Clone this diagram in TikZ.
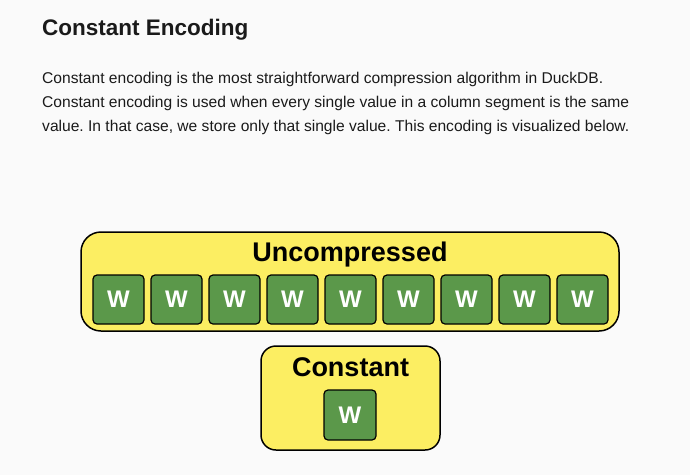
\documentclass[tikz,border=0pt]{standalone}
\usepackage{fontspec}
\setmainfont{Liberation Sans}
\usepackage{xcolor}
\definecolor{pagebg}{HTML}{FAFAFA}
\definecolor{boxyellow}{HTML}{FCEE62}
\definecolor{cellgreen}{HTML}{5B984A}
\definecolor{bodytext}{HTML}{1A1A1A}
\frenchspacing

\begin{document}
\begin{tikzpicture}[x=1pt,y=-1pt,
    panel/.style={draw,line width=1.5pt,fill=boxyellow},
    wcell/.style={draw,line width=1.2pt,fill=cellgreen,rounded corners=4pt,minimum width=51pt,minimum height=49pt,inner sep=0pt,text=white,font=\fontsize{24}{26}\selectfont\bfseries},
    paraline/.style={anchor=base west,inner sep=0pt,text=bodytext,font=\fontsize{15.6}{18}\selectfont}]
    \fill[pagebg] (0,0) rectangle (690,475);
    \useasboundingbox (0,0) rectangle (690,475);
    \node[anchor=base west,inner sep=0pt,text=bodytext,font=\fontsize{22.5}{26}\selectfont\bfseries] (title) at (42,35) {Constant Encoding};
    \node[paraline] (para1) at (42,83) {Constant encoding is the most straightforward compression algorithm in DuckDB.};
    \node[paraline] (para2) at (42,107) {Constant encoding is used when every single value in a column segment is the same};
    \node[paraline] (para3) at (42,131) {value. In that case, we store only that single value. This encoding is visualized below.};
    \node[panel,rounded corners=20pt,minimum width=538pt,minimum height=99pt] (uncomp) at (350,281.5) {};
    \node[anchor=base,inner sep=0pt,font=\fontsize{27}{30}\selectfont\bfseries] (uncomplabel) at (350,261) {Uncompressed};
    \node[wcell] (w1) at (118.5,299.5) {W};
    \node[wcell] (w2) at (176.5,299.5) {W};
    \node[wcell] (w3) at (234.5,299.5) {W};
    \node[wcell] (w4) at (292.5,299.5) {W};
    \node[wcell] (w5) at (350.5,299.5) {W};
    \node[wcell] (w6) at (408.5,299.5) {W};
    \node[wcell] (w7) at (466.5,299.5) {W};
    \node[wcell] (w8) at (524.5,299.5) {W};
    \node[wcell] (w9) at (582.5,299.5) {W};
    \node[panel,rounded corners=15pt,minimum width=179pt,minimum height=104pt] (const) at (350.5,398) {};
    \node[anchor=base,inner sep=0pt,font=\fontsize{27}{30}\selectfont\bfseries] (constlabel) at (350.5,376) {Constant};
    \node[wcell,minimum width=52pt,minimum height=50pt] (wconst) at (350,415) {W};
\end{tikzpicture}
\end{document}
